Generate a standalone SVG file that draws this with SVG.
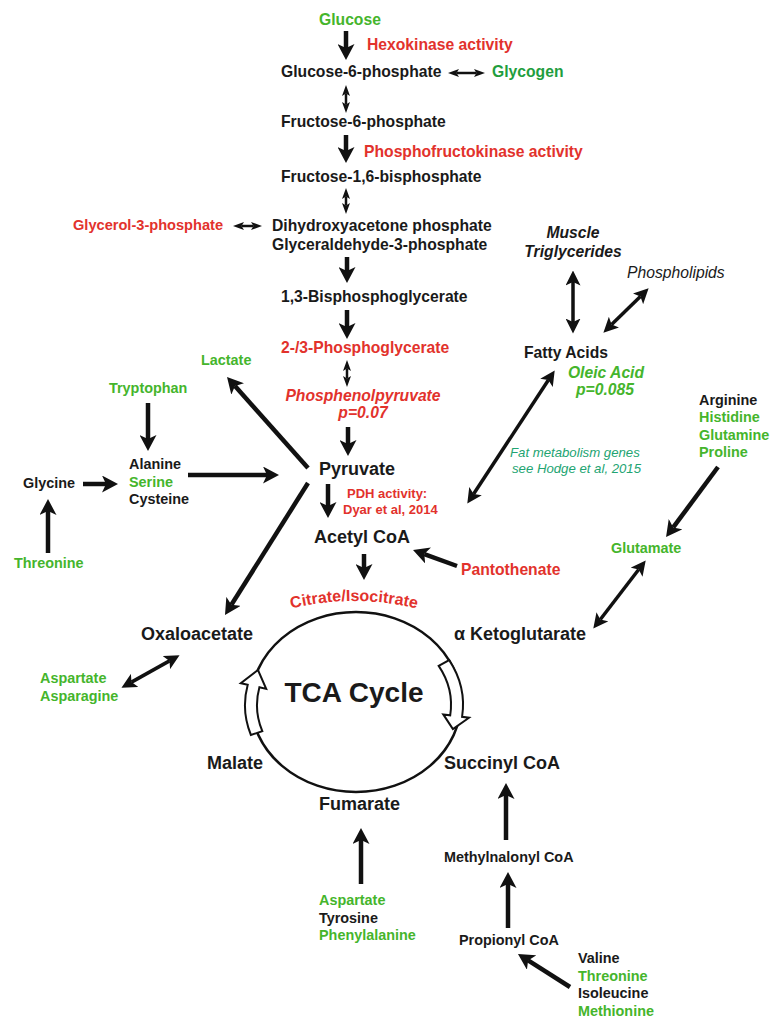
<svg xmlns="http://www.w3.org/2000/svg" width="772" height="1017" viewBox="0 0 772 1017">
<style>
text{font-family:"Liberation Sans",Arial,sans-serif;font-weight:bold;fill:#1a1a1a}
.g{font-size:15.7px}
.aa{font-size:14.4px}
.tca{font-size:18px}
.red{fill:#e2322c}
.grn{fill:#45b52c}
.dgrn{fill:#1f9e3e}
.teal{fill:#22a472}
.it{font-style:italic}
.reg{font-weight:normal}
.mid{text-anchor:middle}
.ln{fill:none;stroke:#111;stroke-width:4.5}
.dl{fill:none;stroke:#111;stroke-width:3.5}
.sl{fill:none;stroke:#111;stroke-width:2.5}
</style>
<defs>
<marker id="ah" viewBox="0 0 16 17" refX="4" refY="8.5" markerWidth="16" markerHeight="17" markerUnits="userSpaceOnUse" orient="auto-start-reverse"><path d="M0,0 L16,8.5 L0,17 L4,8.5 z" fill="#111"/></marker>
<marker id="am" viewBox="0 0 15 15" refX="3.5" refY="7.5" markerWidth="15" markerHeight="15" markerUnits="userSpaceOnUse" orient="auto-start-reverse"><path d="M0,0 L15,7.5 L0,15 L3.5,7.5 z" fill="#111"/></marker>
<marker id="as" viewBox="0 0 11 8" refX="2.5" refY="4" markerWidth="11" markerHeight="8" markerUnits="userSpaceOnUse" orient="auto-start-reverse"><path d="M0,0 L11,4 L0,8 L2.5,4 z" fill="#111"/></marker>
<path id="citArc" d="M254,621 A260,260 0 0 1 454,621"/>
</defs>

<g id="tca-cycle">
<ellipse cx="356" cy="702" rx="105" ry="90" fill="none" stroke="#111" stroke-width="2.5"/>
<path d="M250.9,735 A111,93 0 0 1 247.7,684.7 L240.8,683.2 L258,670 L266.2,688.9 L259.4,687.3 A99,81 0 0 0 262.3,731.1 Z" fill="#fff" stroke="#111" stroke-width="2"/>
<path d="M453.2,660.1 A111,93 0 0 1 466.1,716.8 L473,717.7 L456.9,729 L447.3,714.4 L454.2,715.3 A99,81 0 0 0 442.7,665.9 Z" fill="#fff" stroke="#111" stroke-width="2" transform="translate(-4,0)"/>
<text class="mid" x="354" y="702" style="font-size:28px">TCA Cycle</text>
</g>

<g id="connectors">
<path class="ln" marker-end="url(#ah)" d="M346,31 V48"/>
<path class="ln" marker-end="url(#ah)" d="M346,135 V151"/>
<path class="ln" marker-end="url(#ah)" d="M347,257 V271"/>
<path class="ln" marker-end="url(#ah)" d="M347,310 V327"/>
<path class="ln" marker-end="url(#ah)" d="M348,427 V444"/>
<path class="ln" marker-end="url(#ah)" d="M328,484 V506"/>
<path class="ln" marker-end="url(#ah)" d="M364,554 V568"/>
<path class="ln" marker-end="url(#ah)" d="M148,403 V439"/>
<path class="ln" marker-end="url(#ah)" d="M188,475 H267"/>
<path class="ln" marker-end="url(#ah)" d="M83,484 H106"/>
<path class="ln" marker-end="url(#ah)" d="M48,553 V511"/>
<path class="ln" marker-end="url(#ah)" d="M361,884 V840"/>
<path class="ln" marker-end="url(#ah)" d="M506,840 V795"/>
<path class="ln" marker-end="url(#ah)" d="M508,928 V884"/>
<path class="ln" marker-end="url(#ah)" d="M308,468 L235,386"/>
<path class="ln" marker-end="url(#ah)" d="M308,483 L231.4,604.8"/>
<path class="ln" marker-end="url(#ah)" d="M457,566 L424.3,554.1"/>
<path class="ln" marker-end="url(#ah)" d="M718,467 L673.2,527.4"/>
<path class="ln" marker-end="url(#ah)" d="M570,987 L528.1,960.4"/>
<path class="dl" marker-start="url(#am)" marker-end="url(#am)" d="M473.6,494 L548.4,380"/>
<path class="dl" marker-start="url(#am)" marker-end="url(#am)" d="M573,282 V322"/>
<path class="dl" marker-start="url(#am)" marker-end="url(#am)" d="M611.6,324.6 L640.4,296.4"/>
<path class="dl" marker-start="url(#am)" marker-end="url(#am)" d="M638.7,569.5 L600.3,619.5"/>
<path class="dl" marker-start="url(#am)" marker-end="url(#am)" d="M131.5,682.1 L169.5,660.9"/>
<path class="sl" marker-start="url(#as)" marker-end="url(#as)" d="M456.5,73 H476.5"/>
<path class="sl" marker-start="url(#as)" marker-end="url(#as)" d="M346,93.5 V104.5"/>
<path class="sl" marker-start="url(#as)" marker-end="url(#as)" d="M346,196.5 V205.5"/>
<path class="sl" marker-start="url(#as)" marker-end="url(#as)" d="M241.5,226 H253.5"/>
<path class="sl" marker-start="url(#as)" marker-end="url(#as)" d="M347,368.5 V378.5"/>
</g>

<g id="glucose"><text class="g grn" x="319" y="25">Glucose</text></g>
<g id="hexokinase"><text class="g red" x="367" y="50">Hexokinase activity</text></g>
<g id="g6p"><text class="g" x="281" y="77">Glucose-6-phosphate</text></g>
<g id="glycogen"><text class="g dgrn" x="492" y="77">Glycogen</text></g>
<g id="f6p"><text class="g" x="281" y="127">Fructose-6-phosphate</text></g>
<g id="pfk"><text class="g red" x="364" y="157">Phosphofructokinase activity</text></g>
<g id="f16bp"><text class="g" x="281" y="182">Fructose-1,6-bisphosphate</text></g>
<g id="glycerol3p"><text class="red" x="73" y="230" style="font-size:14.6px">Glycerol-3-phosphate</text></g>
<g id="dhap"><text class="g" x="272" y="231">Dihydroxyacetone phosphate</text><text class="g" x="272" y="250">Glyceraldehyde-3-phosphate</text></g>
<g id="bpg"><text class="g" x="281" y="302">1,3-Bisphosphoglycerate</text></g>
<g id="pg"><text class="g red" x="281" y="353">2-/3-Phosphoglycerate</text></g>
<g id="pep"><text class="g red it mid" x="363" y="401">Phosphenolpyruvate</text><text class="g red it mid" x="363" y="418">p=0.07</text></g>
<g id="lactate"><text class="aa grn" x="201" y="365">Lactate</text></g>
<g id="tryptophan"><text class="aa grn" x="109" y="393">Tryptophan</text></g>
<g id="ala-ser-cys"><text class="aa" x="129" y="469">Alanine</text><text class="aa grn" x="129" y="487">Serine</text><text class="aa" x="129" y="504">Cysteine</text></g>
<g id="glycine"><text class="aa" x="23" y="488">Glycine</text></g>
<g id="threonine1"><text class="aa grn" x="14" y="568">Threonine</text></g>
<g id="pyruvate"><text class="tca" x="319" y="475">Pyruvate</text></g>
<g id="pdh"><text class="red" x="347" y="498" style="font-size:13px">PDH activity:</text><text class="red" x="343" y="514" style="font-size:13px">Dyar et al, 2014</text></g>
<g id="acetylcoa"><text class="tca" x="314" y="543">Acetyl CoA</text></g>
<g id="pantothenate"><text class="g red" x="461" y="575">Pantothenate</text></g>
<g id="citrate"><text class="red" style="font-size:16px"><textPath href="#citArc" startOffset="50%" text-anchor="middle">Citrate/Isocitrate</textPath></text></g>
<g id="oxaloacetate"><text class="tca" x="141" y="640">Oxaloacetate</text></g>
<g id="akg"><text class="tca" x="454" y="640">α Ketoglutarate</text></g>
<g id="malate"><text class="tca" x="207" y="769">Malate</text></g>
<g id="succinylcoa"><text class="tca" x="444" y="769">Succinyl CoA</text></g>
<g id="fumarate"><text class="tca" x="319" y="810">Fumarate</text></g>
<g id="asp-asn"><text class="aa grn" x="40" y="683">Aspartate</text><text class="aa grn" x="40" y="701">Asparagine</text></g>
<g id="muscle-tg"><text class="g it mid" x="573" y="238">Muscle</text><text class="g it mid" x="573" y="257">Triglycerides</text></g>
<g id="phospholipids"><text class="g it reg" x="627" y="278">Phospholipids</text></g>
<g id="fattyacids"><text class="g" x="524" y="358">Fatty Acids</text></g>
<g id="oleic"><text class="g grn it mid" x="606" y="378">Oleic Acid</text><text class="g grn it mid" x="605" y="395">p=0.085</text></g>
<g id="fatgenes"><text class="teal it reg" x="510" y="457" style="font-size:13.2px">Fat metabolism genes</text><text class="teal it reg" x="512" y="473" style="font-size:13.2px">see Hodge et al, 2015</text></g>
<g id="arg-his-gln-pro"><text class="aa" x="699" y="405">Arginine</text><text class="aa grn" x="699" y="422">Histidine</text><text class="aa grn" x="699" y="440">Glutamine</text><text class="aa grn" x="699" y="457">Proline</text></g>
<g id="glutamate"><text class="aa grn" x="611" y="553">Glutamate</text></g>
<g id="asp-tyr-phe"><text class="aa grn" x="319" y="905">Aspartate</text><text class="aa" x="319" y="923">Tyrosine</text><text class="aa grn" x="319" y="940">Phenylalanine</text></g>
<g id="methylmalonylcoa"><text class="aa" x="444" y="862">Methylnalonyl CoA</text></g>
<g id="propionylcoa"><text class="aa" x="459" y="945">Propionyl CoA</text></g>
<g id="val-thr-ile-met"><text class="aa" x="578" y="963">Valine</text><text class="aa grn" x="578" y="981">Threonine</text><text class="aa" x="578" y="998">Isoleucine</text><text class="aa grn" x="578" y="1016">Methionine</text></g>
</svg>
